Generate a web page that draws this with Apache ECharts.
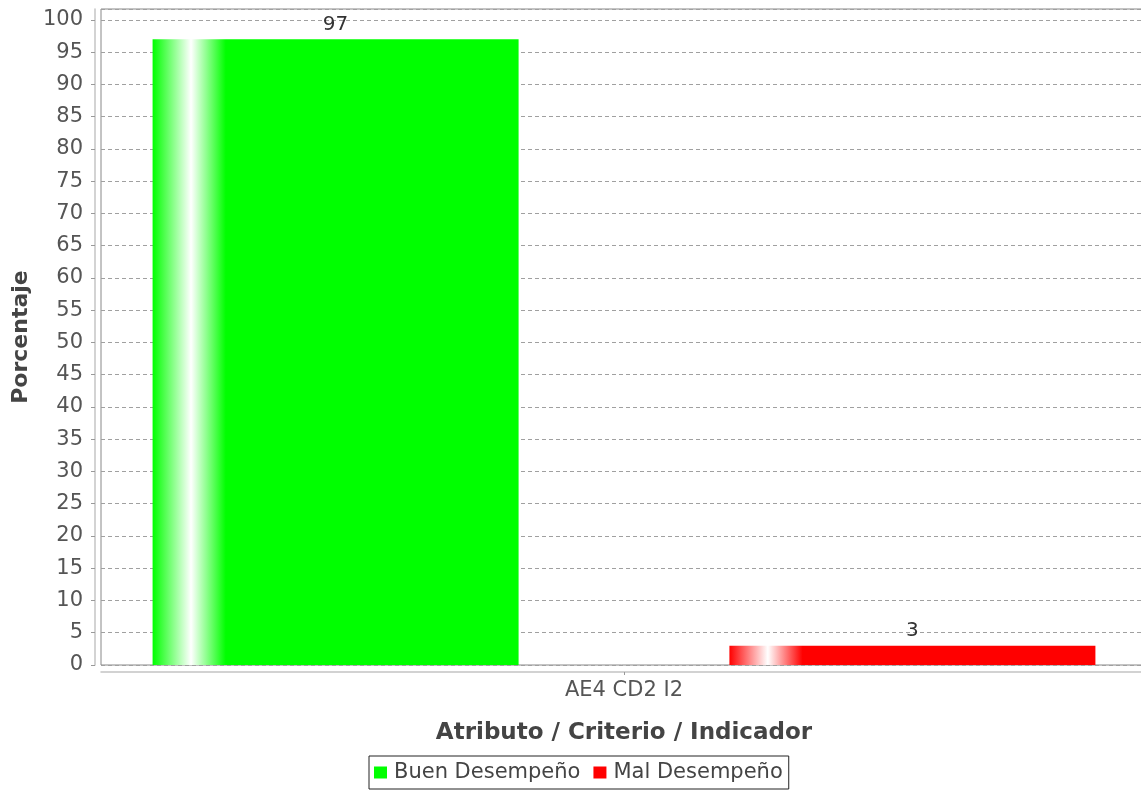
<!doctype html>
<html>
<head>
<meta charset="utf-8">
<title>Porcentaje</title>
<script src="https://cdn.jsdelivr.net/npm/echarts@6/dist/echarts.min.js"></script>
<style>
  html, body { margin: 0; padding: 0; background: #fff; }
  #main { width: 1141px; height: 791px; }
</style>
</head>
<body>
<div id="main"></div>
<script>
// datos
var categorias = ['AE4 CD2 I2'];
var buenDesempeno = [97];
var malDesempeno = [3];
var nombres = ['Buen Desempeño', 'Mal Desempeño'];
var yMin = 0, yMax = 100, yPaso = 5;

var fuente = 'DejaVu Sans';

// degradado tipo JFreeChart (franja blanca a la izquierda)
function degradado(color) {
  return new echarts.graphic.LinearGradient(0, 0, 1, 0, [
    { offset: 0, color: color },
    { offset: 0.105, color: '#ffffff' },
    { offset: 0.2, color: color },
    { offset: 1, color: color }
  ]);
}

var chart = echarts.init(document.getElementById('main'));
var option = {
  animation: false,
  backgroundColor: '#ffffff',
  textStyle: { fontFamily: fuente },
  grid: {
    left: 101, width: 1046, top: 9, height: 656,
    outerBoundsMode: 'none',
    containLabel: false,
    show: true, borderColor: '#888', borderWidth: 1, backgroundColor: '#ffffff'
  },
  legend: {
    left: 369, top: 756,
    orient: 'horizontal',
    icon: 'rect',
    itemWidth: 13, itemHeight: 12, itemGap: 13,
    borderColor: '#222', borderWidth: 1,
    padding: [6, 6, 6, 5],
    textStyle: { fontFamily: fuente, fontSize: 21, color: '#444', padding: [0, 0, 0, 2] }
  },
  xAxis: {
    type: 'category',
    data: categorias,
    offset: 7,
    name: 'Atributo / Criterio / Indicador',
    nameLocation: 'middle',
    nameGap: 50,
    nameTextStyle: { fontFamily: fuente, fontSize: 23, fontWeight: 'bold', color: '#444' },
    axisLine: { onZero: false, lineStyle: { color: '#c4c4c4', width: 1.5 } },
    axisTick: { show: true, alignWithLabel: true, length: 3, lineStyle: { color: '#999' } },
    axisLabel: { fontFamily: fuente, fontSize: 21, color: '#555', margin: 8 },
    splitLine: { show: false }
  },
  yAxis: {
    type: 'value',
    min: yMin, max: 101.7, interval: yPaso,
    offset: 6,
    name: 'Porcentaje',
    nameLocation: 'middle',
    nameGap: 62,
    nameTextStyle: { fontFamily: fuente, fontSize: 22, fontWeight: 'bold', color: '#444' },
    axisLine: { show: true, lineStyle: { color: '#c4c4c4', width: 1.5 } },
    axisTick: { show: true, length: 4, lineStyle: { color: '#999' } },
    axisLabel: {
      fontFamily: fuente, fontSize: 21, color: '#555', margin: 12,
      showMaxLabel: false,
      formatter: function (v) { return v <= yMax ? String(v) : ''; }
    },
    splitLine: { show: true, lineStyle: { color: '#a0a0a0', type: [4, 3], width: 1 } }
  },
  series: [
    {
      name: nombres[0],
      type: 'bar',
      data: buenDesempeno,
      barWidth: 366,
      barGap: '57.6%',
      itemStyle: { color: degradado('#00ff00') },
      label: { show: true, position: 'top', distance: 5, fontFamily: fuente, fontSize: 20, color: '#333' }
    },
    {
      name: nombres[1],
      type: 'bar',
      data: malDesempeno,
      barWidth: 366,
      barGap: '57.6%',
      itemStyle: { color: degradado('#ff0000') },
      label: { show: true, position: 'top', distance: 5, fontFamily: fuente, fontSize: 20, color: '#333' }
    }
  ]
};
option.legend.data = [
  { name: nombres[0], itemStyle: { color: '#00ff00' } },
  { name: nombres[1], itemStyle: { color: '#ff0000' } }
];
chart.setOption(option);
</script>
</body>
</html>
